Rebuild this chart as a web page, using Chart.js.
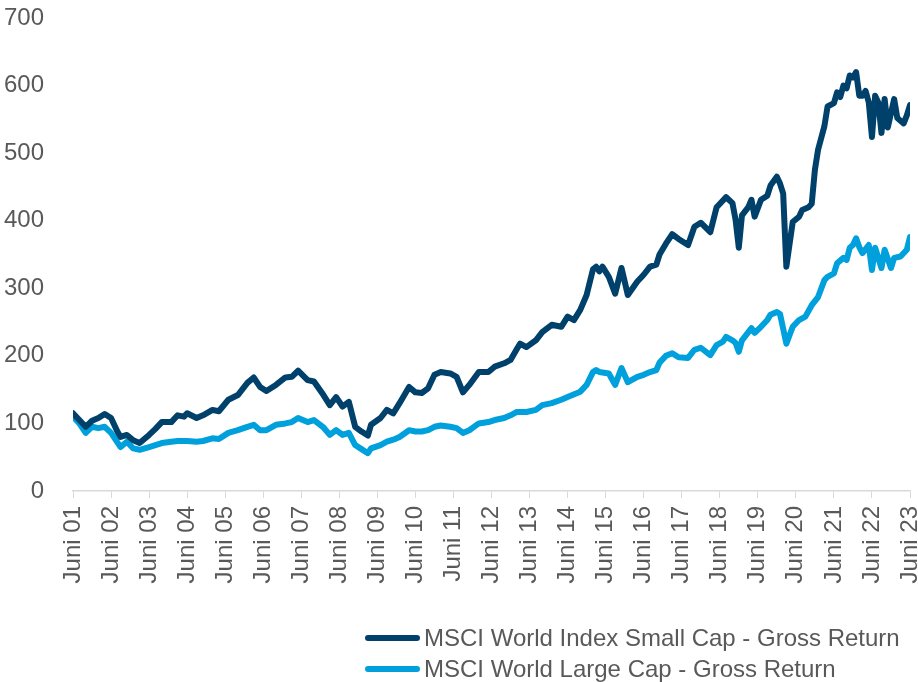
<!DOCTYPE html>
<html>
<head>
<meta charset="utf-8">
<script src="https://cdn.jsdelivr.net/npm/chart.js@4.4.1/dist/chart.umd.min.js"></script>
<style>
  html, body { margin: 0; padding: 0; background: #fff; }
  #wrap { position: relative; width: 918px; height: 682px; }
  #legend {
    position: absolute; left: 365px; top: 622px;
    font-family: "Liberation Sans", Arial, sans-serif; font-size: 24px; color: #595959;
  }
  .legend-row { display: flex; align-items: center; height: 31px; white-space: nowrap; }
  .legend-line { width: 55px; height: 6px; border-radius: 3px; margin-right: 4px; }
</style>
</head>
<body>
<div id="wrap">
  <canvas id="chart" width="918" height="682"></canvas>
  <div id="legend"></div>
</div>
<script>
// x positions are months since June 2001
const tickLabels = ["Juni 01", "Juni 02", "Juni 03", "Juni 04", "Juni 05", "Juni 06", "Juni 07", "Juni 08",
  "Juni 09", "Juni 10", "Juni 11", "Juni 12", "Juni 13", "Juni 14", "Juni 15", "Juni 16", "Juni 17",
  "Juni 18", "Juni 19", "Juni 20", "Juni 21", "Juni 22", "Juni 23"];

const smallCapMonths = [0, 2, 4, 6, 8, 10, 12, 14, 15, 17, 19, 21, 24, 26, 28, 31, 33, 35, 36, 39, 41, 44, 46,
  49, 52, 55, 57, 59, 61, 64, 67, 69, 71, 74, 76, 79, 81, 83, 85, 87, 89, 91, 93, 94, 97, 99, 101, 103, 106,
  108, 110, 112, 114, 116, 119, 121, 123, 125, 128, 131, 133, 136, 138, 140, 141, 143, 146, 148, 151, 154,
  156, 158, 160, 162, 164, 165, 166, 167, 169, 171, 173, 175, 178, 180, 182, 184, 185, 187, 189, 191, 194,
  196, 198, 201, 203, 205, 206, 208, 209, 210, 211, 213, 214, 215, 217, 219, 220, 222, 223, 224, 225, 227,
  229, 230, 232, 233, 234, 235, 237, 238, 240, 241, 242, 243, 244, 245, 246, 247, 248, 249, 250, 251, 252,
  253, 254, 255, 256, 257, 259, 260, 262, 263, 264];
const smallCapValues = [115, 105, 95, 104, 108, 114, 108, 88, 80, 83, 75, 71, 83, 92, 102, 102, 112, 110, 115,
  108, 112, 120, 118, 135, 142, 160, 168, 154, 148, 157, 168, 169, 178, 164, 162, 142, 127, 139, 125, 132,
  95, 88, 82, 98, 108, 120, 115, 130, 154, 146, 145, 152, 172, 176, 174, 169, 146, 157, 176, 176, 184, 189,
  194, 210, 218, 213, 223, 235, 246, 243, 258, 253, 268, 290, 328, 332, 325, 332, 317, 292, 330, 290, 310,
  320, 332, 335, 350, 366, 380, 373, 364, 391, 397, 383, 420, 430, 435, 426, 401, 360, 408, 420, 431, 406,
  431, 437, 452, 465, 455, 440, 332, 398, 406, 416, 420, 425, 475, 505, 540, 569, 574, 590, 583, 600, 596,
  615, 612, 620, 585, 585, 592, 575, 524, 585, 575, 530, 580, 538, 580, 552, 544, 556, 571];

const largeCapMonths = [0, 2, 4, 6, 8, 10, 12, 14, 15, 17, 19, 21, 24, 26, 28, 31, 33, 36, 39, 41, 44, 46, 49,
  52, 55, 57, 59, 61, 64, 67, 69, 71, 74, 76, 79, 81, 83, 85, 87, 89, 91, 93, 94, 97, 99, 101, 103, 106, 108,
  110, 112, 114, 116, 119, 121, 123, 125, 128, 131, 133, 136, 138, 140, 143, 146, 148, 151, 154, 156, 160,
  162, 164, 165, 166, 169, 171, 173, 175, 178, 180, 182, 184, 185, 187, 189, 191, 194, 196, 198, 201, 203,
  205, 206, 208, 209, 210, 211, 214, 215, 217, 219, 220, 222, 223, 225, 227, 229, 231, 233, 235, 237, 238,
  240, 241, 243, 244, 245, 246, 247, 248, 249, 251, 252, 253, 255, 256, 258, 259, 261, 263, 264];
const largeCapValues = [110, 100, 86, 95, 93, 95, 86, 72, 65, 73, 63, 61, 65, 68, 71, 73, 74, 74, 73, 74, 78,
  77, 86, 90, 95, 98, 90, 90, 98, 100, 102, 108, 102, 105, 94, 83, 90, 83, 86, 68, 62, 56, 63, 68, 73, 76,
  80, 90, 88, 88, 90, 95, 97, 95, 93, 86, 90, 100, 102, 105, 108, 112, 117, 117, 120, 127, 130, 135, 139,
  147, 157, 176, 179, 176, 174, 157, 182, 161, 169, 172, 176, 179, 190, 200, 204, 198, 197, 209, 212, 201,
  216, 221, 228, 223, 219, 206, 223, 241, 234, 243, 253, 261, 265, 262, 218, 243, 253, 258, 275, 287, 312,
  317, 322, 337, 345, 342, 360, 364, 374, 361, 352, 364, 327, 360, 330, 357, 330, 345, 347, 357, 376];

const seriesNames = ["MSCI World Index Small Cap - Gross Return", "MSCI World Large Cap - Gross Return"];
const seriesColors = ["#00416b", "#00a0dc"];

const textColor = "#595959";
const fontFamily = '"Liberation Sans", Arial, sans-serif';

function toPoints(xs, ys) {
  return xs.map((x, i) => ({ x: x, y: ys[i] }));
}

const ctx = document.getElementById("chart").getContext("2d");

const chart = new Chart(ctx, {
  type: "line",
  data: {
    datasets: [
      {
        label: seriesNames[0],
        data: toPoints(smallCapMonths, smallCapValues),
        borderColor: seriesColors[0],
        backgroundColor: seriesColors[0],
        borderWidth: 6,
        pointRadius: 0,
        tension: 0,
        borderJoinStyle: "round",
        borderCapStyle: "round",
      },
      {
        label: seriesNames[1],
        data: toPoints(largeCapMonths, largeCapValues),
        borderColor: seriesColors[1],
        backgroundColor: seriesColors[1],
        borderWidth: 6,
        pointRadius: 0,
        tension: 0,
        borderJoinStyle: "round",
        borderCapStyle: "round",
      },
    ],
  },
  options: {
    responsive: false,
    animation: false,
    layout: { padding: { left: 0, right: 8, top: 18, bottom: 0 } },
    plugins: {
      legend: { display: false },
      tooltip: { enabled: false },
    },
    scales: {
      x: {
        type: "linear",
        min: 0,
        max: 264,
        grid: {
          display: true,
          drawOnChartArea: false,
          drawTicks: true,
          tickLength: 7,
          color: "#d9d9d9",
        },
        border: { display: true, color: "#d9d9d9", width: 1.5 },
        ticks: {
          stepSize: 12,
          autoSkip: false,
          maxRotation: 90,
          minRotation: 90,
          padding: 8,
          color: textColor,
          font: { family: fontFamily, size: 24 },
          callback: (value) => tickLabels[Math.round(value / 12)],
        },
        afterFit: (scale) => {
          scale.paddingLeft = 0;
          scale.paddingRight = 0;
          scale.height = 682 - 491;
        },
      },
      y: {
        min: 0,
        max: 700,
        grid: { display: false },
        border: { display: false },
        ticks: {
          stepSize: 100,
          padding: 21,
          color: textColor,
          font: { family: fontFamily, size: 24 },
        },
        afterFit: (scale) => {
          scale.paddingTop = 0;
          scale.paddingBottom = 0;
          scale.width = 73;
        },
      },
    },
  },
});

// HTML legend built from the chart's datasets
const legendEl = document.getElementById("legend");
chart.data.datasets.forEach((ds) => {
  const row = document.createElement("div");
  row.className = "legend-row";
  row.innerHTML = `<span class="legend-line" style="background:${ds.borderColor}"></span><span>${ds.label}</span>`;
  legendEl.appendChild(row);
});
</script>
</body>
</html>
